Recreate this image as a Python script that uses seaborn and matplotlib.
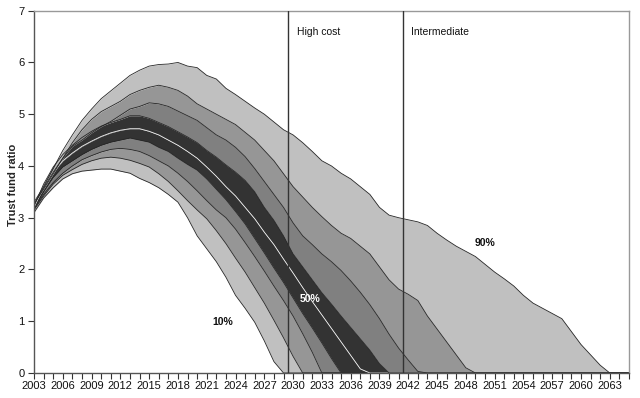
import matplotlib
matplotlib.use("Agg")
import matplotlib.pyplot as plt
import seaborn as sns
import numpy as np
import pandas as pd

years = list(range(2003, 2066))

p10 = [3.10, 3.38, 3.58, 3.75, 3.85, 3.90, 3.92, 3.94, 3.94, 3.90, 3.86, 3.76, 3.68, 3.58, 3.45,
       3.30, 3.00, 2.65, 2.40, 2.15, 1.85, 1.50, 1.25, 0.98, 0.62, 0.22, 0.0]
p20 = [3.15, 3.42, 3.65, 3.82, 3.93, 4.03, 4.10, 4.15, 4.17, 4.15, 4.11, 4.05, 3.98, 3.85, 3.70,
       3.52, 3.33, 3.15, 2.98, 2.75, 2.50, 2.22, 1.95, 1.65, 1.35, 1.02, 0.68, 0.32, 0.0]
p30 = [3.17, 3.45, 3.68, 3.86, 4.00, 4.12, 4.20, 4.27, 4.32, 4.34, 4.32, 4.28, 4.20, 4.10, 4.00,
       3.86, 3.70, 3.52, 3.33, 3.15, 3.00, 2.78, 2.52, 2.25, 1.97, 1.68, 1.40, 1.10, 0.76, 0.40,
       0.0]
p40 = [3.18, 3.50, 3.78, 3.98, 4.10, 4.22, 4.32, 4.40, 4.46, 4.50, 4.54, 4.50, 4.46, 4.36, 4.28,
       4.15, 4.03, 3.92, 3.75, 3.55, 3.35, 3.12, 2.88, 2.60, 2.32, 2.03, 1.75, 1.45, 1.15, 0.87,
       0.58, 0.28, 0.0]
p50 = [3.20, 3.60, 3.88, 4.10, 4.25, 4.38, 4.48, 4.57, 4.64, 4.69, 4.72, 4.72, 4.67, 4.60, 4.50,
       4.40, 4.28, 4.15, 3.98, 3.80, 3.60, 3.42, 3.20, 2.98, 2.72, 2.48, 2.20, 1.93, 1.65, 1.38,
       1.12, 0.86, 0.60, 0.34, 0.08, 0.0]
p60 = [3.22, 3.65, 3.98, 4.22, 4.40, 4.55, 4.67, 4.77, 4.84, 4.90, 4.97, 4.97, 4.92, 4.84, 4.76,
       4.66, 4.56, 4.45, 4.30, 4.17, 4.02, 3.88, 3.72, 3.50, 3.20, 2.95, 2.65, 2.30, 2.05, 1.80,
       1.55, 1.33, 1.10, 0.88, 0.66, 0.44, 0.18, 0.0]
p70 = [3.25, 3.58, 3.88, 4.15, 4.38, 4.50, 4.64, 4.76, 4.86, 4.98, 5.10, 5.15, 5.22, 5.20, 5.15,
       5.06, 4.97, 4.88, 4.74, 4.60, 4.50, 4.36, 4.18, 3.95, 3.70, 3.45, 3.20, 2.90, 2.65, 2.48,
       2.30, 2.15, 1.98, 1.78, 1.56, 1.32, 1.05, 0.75, 0.48, 0.25, 0.03, 0.0]
p80 = [3.27, 3.55, 3.85, 4.15, 4.45, 4.70, 4.90, 5.05, 5.15, 5.25, 5.38, 5.46, 5.52, 5.56, 5.52,
       5.46, 5.35, 5.20, 5.10, 5.00, 4.90, 4.80, 4.65, 4.50, 4.30, 4.10, 3.85, 3.60, 3.40, 3.20,
       3.02, 2.85, 2.70, 2.60, 2.45, 2.30, 2.05, 1.80, 1.62, 1.52, 1.40, 1.10, 0.85, 0.60, 0.35,
       0.10, 0.0]
p90 = [3.30, 3.60, 3.95, 4.30, 4.60, 4.88, 5.10, 5.30, 5.45, 5.60, 5.75, 5.85, 5.93, 5.96, 5.97,
       6.00, 5.93, 5.90, 5.75, 5.68, 5.50, 5.38, 5.25, 5.12, 5.00, 4.85, 4.70, 4.60, 4.45, 4.28,
       4.10, 4.00, 3.86, 3.75, 3.60, 3.45, 3.20, 3.05, 3.00, 2.96, 2.92, 2.85, 2.70, 2.57, 2.45,
       2.35, 2.25, 2.10, 1.95, 1.82, 1.68, 1.50, 1.35, 1.25, 1.15, 1.05, 0.80, 0.55, 0.35, 0.15,
       0.0]

percentiles = ["10%", "20%", "30%", "40%", "50%", "60%", "70%", "80%", "90%"]
series = [p10, p20, p30, p40, p50, p60, p70, p80, p90]
band_colors = ["#C0C0C0", "#969696", "#808080", "#333333", "#333333", "#808080", "#969696", "#C0C0C0"]

scenario_years = [2029.5, 2041.4]
scenario_names = ["High cost", "Intermediate"]

n = len(years)
full = [np.array(s + [0.0] * (n - len(s))) for s in series]
yrs = np.array(years)

sns.set_style("white")
plt.rcParams["font.family"] = ["Liberation Sans", "DejaVu Sans"]

fig = plt.figure(figsize=(6.4, 3.98), dpi=100)
ax = fig.add_axes([34 / 640, 25 / 398, (629 - 34) / 640, (373 - 10.7) / 398])

for i in range(len(full) - 1):
    ax.fill_between(yrs, full[i], full[i + 1], color=band_colors[i], linewidth=0, zorder=1)

rows = []
for name, arr in zip(percentiles, full):
    for y, v in zip(yrs, arr):
        rows.append({"year": y, "value": v, "pct": name})
df = pd.DataFrame(rows)
palette = {p: ("#F4F4F4" if p == "50%" else "#262626") for p in percentiles}
sns.lineplot(data=df, x="year", y="value", hue="pct", palette=palette, linewidth=0.6,
             legend=False, ax=ax, zorder=2, estimator=None, sort=False)

for xv in scenario_years:
    ax.axvline(xv, color="#333333", linewidth=1.0, zorder=3)
for xv, name in zip(scenario_years, scenario_names):
    ax.text(xv + 0.9, 6.58, name, fontsize=7.5, color="#111111", va="center", ha="left")

ax.text(2022.7, 0.98, "10%", fontsize=7.5, fontweight="bold", color="#111111", ha="center", va="center")
ax.text(2031.75, 1.43, "50%", fontsize=7.5, fontweight="bold", color="white", ha="center", va="center")
ax.text(2050.0, 2.51, "90%", fontsize=7.5, fontweight="bold", color="#111111", ha="center", va="center")

ax.set_xlim(2003, 2065)
ax.set_ylim(0, 7)
ax.set_xticks(list(range(2003, 2064, 3)))
ax.set_xticks(years, minor=True)
ax.set_yticks(range(0, 8))
ax.tick_params(axis="x", which="both", direction="out", length=4, width=0.8, color="#333333",
               labelsize=8, labelcolor="#111111", bottom=True, pad=2)
ax.tick_params(axis="y", which="major", direction="out", length=4, width=0.8, color="#333333",
               labelsize=8, labelcolor="#111111", left=True, pad=3)
ax.set_xlabel("")
ax.set_ylabel("Trust fund ratio", fontsize=8, fontweight="bold")
ax.yaxis.set_label_coords(-0.027, 0.52)

for side in ["left", "bottom"]:
    ax.spines[side].set_color("#555555")
    ax.spines[side].set_linewidth(1.0)
for side in ["top", "right"]:
    ax.spines[side].set_color("#999999")
    ax.spines[side].set_linewidth(1.0)
    ax.spines[side].set_visible(True)

fig.savefig("out.png", dpi=100)
